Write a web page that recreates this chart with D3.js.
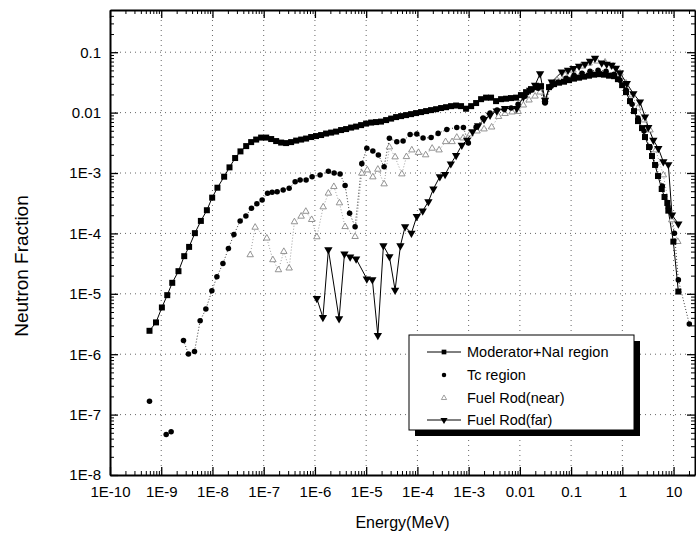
<!DOCTYPE html>
<html>
<head>
<meta charset="utf-8">
<script src="https://cdn.jsdelivr.net/npm/d3@7"></script>
<style>
  body { margin: 0; background: #fff; }
  text { font-family: Arial, "Liberation Sans", sans-serif; }
</style>
</head>
<body>
<div id="chart"></div>
<script>
// tick labels
var energyTicks = [1e-10, 1e-9, 1e-8, 1e-7, 1e-6, 1e-5, 1e-4, 1e-3, 0.01, 0.1, 1, 10];
var energyLabels = ["1E-10", "1E-9", "1E-8", "1E-7", "1E-6", "1E-5", "1E-4", "1E-3", "0.01", "0.1", "1", "10"];
var fracTicks = [1e-8, 1e-7, 1e-6, 1e-5, 1e-4, 1e-3, 0.01, 0.1];
var fracLabels = ["1E-8", "1E-7", "1E-6", "1E-5", "1E-4", "1E-3", "0.01", "0.1"];

// [energy (MeV), neutron fraction]
var moderator = [[5.9e-10,2.44e-6],[7.9e-10,3.36e-6],[1.03e-9,5.94e-6],[1.31e-9,9.5e-6],[1.64e-9,1.52e-5],[2.17e-9,2.37e-5],[2.81e-9,4.2e-5],[3.5e-9,5.98e-5],[4.54e-9,1.01e-4],[5.94e-9,1.61e-4],[7.78e-9,2.42e-4],[9.87e-9,3.91e-4],[1.25e-8,5.71e-4],[1.69e-8,8.69e-4],[2.15e-8,1.24e-3],[2.77e-8,1.77e-3],[3.52e-8,2.28e-3],[4.55e-8,2.79e-3],[5.69e-8,3.25e-3],[7.13e-8,3.58e-3],[8.9e-8,3.86e-3],[1.12e-7,3.86e-3],[1.40e-7,3.65e-3],[1.75e-7,3.38e-3],[2.19e-7,3.19e-3],[2.74e-7,3.13e-3],[3.43e-7,3.25e-3],[4.30e-7,3.44e-3],[5.38e-7,3.58e-3],[6.73e-7,3.72e-3],[8.43e-7,3.94e-3],[1.05e-6,4.09e-3],[1.32e-6,4.25e-3],[1.65e-6,4.50e-3],[2.07e-6,4.67e-3],[2.59e-6,4.85e-3],[3.24e-6,5.14e-3],[4.06e-6,5.34e-3],[5.08e-6,5.65e-3],[6.37e-6,5.87e-3],[7.96e-6,6.21e-3],[9.97e-6,6.58e-3],[1.25e-5,6.84e-3],[1.56e-5,6.97e-3],[1.95e-5,7.10e-3],[2.45e-5,7.52e-3],[3.07e-5,7.96e-3],[3.84e-5,8.43e-3],[4.81e-5,8.75e-3],[6.01e-5,9.09e-3],[7.53e-5,9.44e-3],[9.42e-5,9.82e-3],[1.18e-4,1.02e-2],[1.48e-4,1.06e-2],[1.85e-4,1.10e-2],[2.32e-4,1.14e-2],[2.90e-4,1.19e-2],[3.63e-4,1.23e-2],[4.54e-4,1.28e-2],[5.69e-4,1.31e-2],[7.11e-4,1.28e-2],[8.91e-4,1.16e-2],[1.12e-3,1.28e-2],[1.40e-3,1.44e-2],[1.75e-3,1.67e-2],[2.19e-3,1.77e-2],[2.74e-3,1.77e-2],[3.43e-3,1.55e-2],[4.30e-3,1.67e-2],[5.38e-3,1.70e-2],[6.73e-3,1.74e-2],[8.43e-3,1.77e-2],[1.05e-2,1.95e-2],[1.32e-2,2.18e-2],[1.65e-2,2.45e-2],[2.07e-2,2.64e-2],[2.59e-2,2.74e-2],[3.10e-2,1.55e-2],[3.71e-2,2.64e-2],[4.65e-2,2.96e-2],[5.82e-2,3.13e-2],[7.28e-2,3.25e-2],[9.12e-2,3.45e-2],[0.114,3.65e-2],[0.143,3.79e-2],[0.179,3.94e-2],[0.224,4.09e-2],[0.281,4.25e-2],[0.351,4.33e-2],[0.44,4.25e-2],[0.55,4.09e-2],[0.69,4.01e-2],[0.82,3.58e-2],[0.99,2.85e-2],[1.18,2.18e-2],[1.41,1.55e-2],[1.69,1.06e-2],[2.02,7.24e-3],[2.42,5.54e-3],[2.77,3.94e-3],[3.32,2.69e-3],[3.79,1.91e-3],[4.35,1.36e-3],[4.97,8.91e-4],[5.87,5.44e-4],[6.66,4.01e-4],[7.55,3.19e-4],[7.9,2.38e-4],[9.9,7.31e-5],[12.4,1.09e-5]];

var tcRegion = [[5.9e-10,1.66e-7],[1.25e-9,4.67e-8],[1.56e-9,5.18e-8],[2.72e-9,1.69e-6],[3.40e-9,1.01e-6],[4.46e-9,1.11e-6],[5.75e-9,3.58e-6],[7.43e-9,5.58e-6],[9.73e-9,1.12e-5],[1.22e-8,1.91e-5],[1.60e-8,3.17e-5],[2.05e-8,5.61e-5],[2.62e-8,9.55e-5],[3.47e-8,1.61e-4],[4.49e-8,1.95e-4],[5.77e-8,2.61e-4],[7.35e-8,3.11e-4],[9.33e-8,3.58e-4],[1.19e-7,4.62e-4],[1.46e-7,4.80e-4],[1.83e-7,4.91e-4],[2.40e-7,5.24e-4],[3.14e-7,5.58e-4],[4.11e-7,7.18e-4],[5.14e-7,7.66e-4],[6.73e-7,7.66e-4],[8.81e-7,8.69e-4],[1.26e-6,9.27e-4],[1.83e-6,1.07e-3],[2.37e-6,1.0e-3],[3.10e-6,9.62e-4],[3.88e-6,6.21e-4],[4.75e-6,2.16e-4],[6.08e-6,1.29e-4],[8.22e-6,1.43e-3],[1.03e-5,2.56e-3],[1.35e-5,2.31e-3],[1.73e-5,1.99e-3],[2.24e-5,1.27e-3],[2.84e-5,3.75e-3],[3.96e-5,3.29e-3],[5.26e-5,3.38e-3],[7.21e-5,4.33e-3],[9.73e-5,4.42e-3],[1.29e-4,3.79e-3],[1.85e-4,3.86e-3],[2.54e-4,4.53e-3],[3.75e-4,5.27e-3],[5.87e-4,5.69e-3],[7.91e-4,5.69e-3],[9.89e-4,3.13e-3],[1.40e-3,5.75e-3],[1.91e-3,8.11e-3],[2.62e-3,9.82e-3],[3.59e-3,1.10e-2],[4.92e-3,1.14e-2],[6.75e-3,1.19e-2],[9.23e-3,1.38e-2],[1.26e-2,1.87e-2],[1.73e-2,2.36e-2],[2.27e-2,2.54e-2],[3.10e-2,1.44e-2],[4.07e-2,2.74e-2],[5.56e-2,3.19e-2],[7.98e-2,3.72e-2],[0.114,4.17e-2],[0.163,4.50e-2],[0.234,4.85e-2],[0.336,5.04e-2],[0.481,4.85e-2],[0.69,4.33e-2],[0.90,3.45e-2],[1.18,2.36e-2],[1.55,1.38e-2],[2.02,8.11e-3],[2.65,4.94e-3],[3.47,2.69e-3],[4.49,1.36e-3],[6.03,6.10e-4],[7.82,2.74e-4],[10.4,1.01e-4],[12.4,1.70e-5],[20.3,3.16e-6]];

var fuelNear = [[5.45e-8,4.41e-5],[6.81e-8,1.26e-4],[1.15e-7,8.33e-5],[1.51e-7,3.65e-5],[1.94e-7,2.49e-5],[2.47e-7,5.0e-5],[3.14e-7,2.66e-5],[3.98e-7,1.55e-4],[5.38e-7,1.92e-4],[6.64e-7,2.31e-4],[8.63e-7,1.69e-4],[1.09e-6,8.75e-5],[1.45e-6,2.74e-4],[1.83e-6,4.62e-4],[2.34e-6,5.94e-4],[3.01e-6,3.19e-4],[3.88e-6,1.29e-4],[6.08e-6,8.85e-5],[8.22e-6,9.89e-4],[1.05e-5,1.12e-3],[1.35e-5,8.59e-4],[1.69e-5,1.15e-3],[2.24e-5,6.58e-4],[2.84e-5,2.69e-3],[3.67e-5,1.84e-3],[4.97e-5,9.62e-4],[6.10e-5,1.86e-3],[7.78e-5,2.40e-3],[1.05e-4,2.18e-3],[1.45e-4,1.99e-3],[1.94e-4,2.56e-3],[2.65e-4,2.40e-3],[3.55e-4,3.29e-3],[4.75e-4,3.29e-3],[5.87e-4,3.89e-3],[7.80e-4,3.79e-3],[1.07e-3,4.42e-3],[1.46e-3,4.94e-3],[2.0e-3,5.34e-3],[2.81e-3,5.75e-3],[3.84e-3,8.59e-3],[5.14e-3,9.62e-3],[7.05e-3,1.02e-2],[9.23e-3,1.04e-2],[1.17e-2,1.33e-2],[1.51e-2,1.61e-2],[1.98e-2,1.87e-2],[2.48e-2,2.18e-2],[3.10e-2,1.61e-2],[3.88e-2,2.74e-2],[5.32e-2,3.45e-2],[7.62e-2,4.17e-2],[0.109,5.04e-2],[0.156,5.87e-2],[0.224,6.58e-2],[0.321,7.10e-2],[0.46,6.84e-2],[0.66,5.87e-2],[0.90,4.50e-2],[1.18,3.07e-2],[1.55,1.95e-2],[2.02,1.19e-2],[2.65,7.52e-3],[3.47,5.14e-3],[4.49,2.40e-3],[6.31,9.27e-4],[9.2,1.67e-4],[12.1,7.31e-5]];

var fuelFar = [[1.09e-6,8.36e-6],[1.43e-6,4.06e-6],[1.83e-6,5.40e-5],[2.96e-6,3.86e-6],[3.77e-6,4.58e-5],[4.86e-6,4.09e-5],[6.37e-6,3.79e-5],[1.03e-5,1.77e-5],[1.32e-5,1.72e-5],[1.69e-5,2.05e-6],[2.17e-5,6.28e-5],[2.84e-5,4.14e-5],[3.67e-5,1.15e-5],[4.66e-5,6.28e-5],[5.75e-5,1.29e-4],[7.64e-5,1.01e-4],[9.73e-5,1.91e-4],[1.27e-4,2.36e-4],[1.64e-4,3.36e-4],[2.05e-4,5.44e-4],[2.74e-4,8.69e-4],[3.47e-4,9.44e-4],[4.49e-4,1.42e-3],[5.69e-4,1.95e-3],[7.35e-4,2.90e-3],[9.33e-4,3.51e-3],[1.19e-3,4.82e-3],[1.53e-3,6.10e-3],[2.0e-3,7.72e-3],[2.62e-3,9.09e-3],[3.54e-3,1.07e-2],[5.14e-3,1.17e-2],[8.71e-3,1.17e-2],[1.17e-2,1.82e-2],[1.58e-2,2.36e-2],[1.98e-2,2.85e-2],[2.48e-2,4.41e-2],[3.10e-2,1.61e-2],[4.20e-2,3.23e-2],[6.58e-2,4.72e-2],[8.71e-2,5.04e-2],[0.111,5.38e-2],[0.143,5.87e-2],[0.187,6.33e-2],[0.234,7.10e-2],[0.293,7.96e-2],[0.396,6.65e-2],[0.495,6.33e-2],[0.62,6.10e-2],[0.75,5.44e-2],[0.90,4.55e-2],[1.22,3.04e-2],[1.64,2.07e-2],[2.21,1.51e-2],[2.77,8.53e-3],[3.21,5.69e-3],[4.03,3.51e-3],[5.04,2.56e-3],[6.31,1.54e-3],[7.9,1.38e-3],[9.33,2.02e-4],[12.4,1.44e-4]];

var seriesNames = ["Moderator+NaI region", "Tc region", "Fuel Rod(near)", "Fuel Rod(far)"];

var margin = {top: 10, right: 1, bottom: 67, left: 110},
    width = 696 - margin.left - margin.right,
    height = 542 - margin.top - margin.bottom;

var svg = d3.select("#chart")
  .append("svg")
    .attr("width", width + margin.left + margin.right)
    .attr("height", height + margin.top + margin.bottom)
  .append("g")
    .attr("transform", `translate(${margin.left},${margin.top})`);

var x = d3.scaleLog().domain([1e-10, 26.2]).range([0, width]);
var y = d3.scaleLog().domain([1e-8, 0.5]).range([height, 0]);

var isDecade = d => Math.abs(Math.log10(d) - Math.round(Math.log10(d))) < 1e-6;
var minorX = x.ticks(40).filter(d => !isDecade(d));
var minorY = y.ticks(40).filter(d => !isDecade(d));

// dotted grid
svg.append("g").selectAll("line")
  .data(energyTicks.slice(1))
  .join("line")
    .attr("x1", d => x(d)).attr("x2", d => x(d))
    .attr("y1", 0).attr("y2", height)
    .attr("stroke", "#666").attr("stroke-dasharray", "1,4");
svg.append("g").selectAll("line")
  .data(fracTicks.slice(1))
  .join("line")
    .attr("y1", d => y(d)).attr("y2", d => y(d))
    .attr("x1", 0).attr("x2", width)
    .attr("stroke", "#666").attr("stroke-dasharray", "1,4");

// axes, ticks pointing inward
function styleAxis(g) {
  g.select(".domain").attr("stroke-width", 2);
  g.selectAll(".tick line").attr("stroke-width", 1.3);
  g.selectAll("text").style("font-size", "15px").attr("fill", "#000");
}
svg.append("g")
  .attr("transform", `translate(0,${height})`)
  .call(d3.axisBottom(x).tickValues(energyTicks).tickFormat((d, i) => energyLabels[i])
        .tickSizeInner(-8).tickSizeOuter(0).tickPadding(11))
  .call(styleAxis);
svg.append("g")
  .attr("transform", `translate(0,${height})`)
  .call(d3.axisBottom(x).tickValues(minorX).tickFormat("").tickSize(-4))
  .call(g => g.select(".domain").remove());
svg.append("g")
  .call(d3.axisTop(x).tickValues(energyTicks).tickFormat("").tickSizeInner(-8).tickSizeOuter(0))
  .call(styleAxis);
svg.append("g")
  .call(d3.axisTop(x).tickValues(minorX).tickFormat("").tickSize(-4))
  .call(g => g.select(".domain").remove());

svg.append("g")
  .call(d3.axisLeft(y).tickValues(fracTicks).tickFormat((d, i) => fracLabels[i])
        .tickSizeInner(-8).tickSizeOuter(0).tickPadding(9))
  .call(styleAxis);
svg.append("g")
  .call(d3.axisLeft(y).tickValues(minorY).tickFormat("").tickSize(-4))
  .call(g => g.select(".domain").remove());
svg.append("g")
  .attr("transform", `translate(${width},0)`)
  .call(d3.axisRight(y).tickValues(fracTicks).tickFormat("").tickSizeInner(-8).tickSizeOuter(0))
  .call(styleAxis);
svg.append("g")
  .attr("transform", `translate(${width},0)`)
  .call(d3.axisRight(y).tickValues(minorY).tickFormat("").tickSize(-4))
  .call(g => g.select(".domain").remove());

// axis titles
svg.append("text")
  .attr("x", width / 2)
  .attr("y", height + 53)
  .attr("text-anchor", "middle")
  .style("font-size", "16px")
  .text("Energy(MeV)");
svg.append("text")
  .attr("transform", "rotate(-90)")
  .attr("x", -256)
  .attr("y", -82)
  .attr("text-anchor", "middle")
  .style("font-size", "19px")
  .text("Neutron Fraction");

var line = d3.line().x(d => x(d[0])).y(d => y(d[1]));
var plot = svg.append("g");

// lines
plot.append("path").datum(tcRegion.slice(3))
  .attr("d", line).attr("fill", "none").attr("stroke", "#000")
  .attr("stroke-width", 0.8).attr("stroke-dasharray", "1,2");
plot.append("path").datum(fuelNear)
  .attr("d", line).attr("fill", "none").attr("stroke", "#888")
  .attr("stroke-width", 0.8).attr("stroke-dasharray", "1,2");
plot.append("path").datum(moderator)
  .attr("d", line).attr("fill", "none").attr("stroke", "#000").attr("stroke-width", 1);
plot.append("path").datum(fuelFar)
  .attr("d", line).attr("fill", "none").attr("stroke", "#000").attr("stroke-width", 1);

// markers
var sqr = d3.symbol().type(d3.symbolSquare).size(36);
var circ = d3.symbol().type(d3.symbolCircle).size(24);
var triUp = d3.symbol().type(d3.symbolTriangle).size(18);
var triDown = d3.symbol().type(d3.symbolTriangle).size(30);

plot.append("g").selectAll("path").data(fuelNear).join("path")
  .attr("d", triUp)
  .attr("transform", d => `translate(${x(d[0])},${y(d[1])})`)
  .attr("fill", "#fff").attr("stroke", "#888").attr("stroke-width", 0.9);
plot.append("g").selectAll("path").data(tcRegion).join("path")
  .attr("d", circ)
  .attr("transform", d => `translate(${x(d[0])},${y(d[1])})`)
  .attr("fill", "#000");
plot.append("g").selectAll("path").data(moderator).join("path")
  .attr("d", sqr)
  .attr("transform", d => `translate(${x(d[0])},${y(d[1])})`)
  .attr("fill", "#000");
plot.append("g").selectAll("path").data(fuelFar).join("path")
  .attr("d", triDown)
  .attr("transform", d => `translate(${x(d[0])},${y(d[1])}) rotate(180)`)
  .attr("fill", "#000");

// legend
var lg = svg.append("g").attr("transform", "translate(299,325)");
lg.append("rect").attr("x", 6).attr("y", 6).attr("width", 225).attr("height", 95).attr("fill", "#000");
lg.append("rect").attr("width", 225).attr("height", 95)
  .attr("fill", "#fff").attr("stroke", "#000").attr("stroke-width", 1);

var rowY = [17, 40, 63, 85];
lg.append("line").attr("x1", 18).attr("x2", 52).attr("y1", rowY[0]).attr("y2", rowY[0]).attr("stroke", "#000");
lg.append("path").attr("d", d3.symbol().type(d3.symbolSquare).size(22))
  .attr("transform", `translate(35,${rowY[0]})`);
lg.append("path").attr("d", d3.symbol().type(d3.symbolCircle).size(16))
  .attr("transform", `translate(35,${rowY[1]})`);
lg.append("path").attr("d", d3.symbol().type(d3.symbolTriangle).size(12))
  .attr("transform", `translate(35,${rowY[2]})`)
  .attr("fill", "#fff").attr("stroke", "#888").attr("stroke-width", 0.8);
lg.append("line").attr("x1", 18).attr("x2", 52).attr("y1", rowY[3]).attr("y2", rowY[3]).attr("stroke", "#000");
lg.append("path").attr("d", d3.symbol().type(d3.symbolTriangle).size(22))
  .attr("transform", `translate(35,${rowY[3]}) rotate(180)`);

lg.selectAll("text.lbl").data(seriesNames).join("text")
  .attr("class", "lbl")
  .attr("x", 58)
  .attr("y", (d, i) => rowY[i])
  .attr("dy", "0.35em")
  .style("font-size", "14.5px")
  .text(d => d);
</script>
</body>
</html>
